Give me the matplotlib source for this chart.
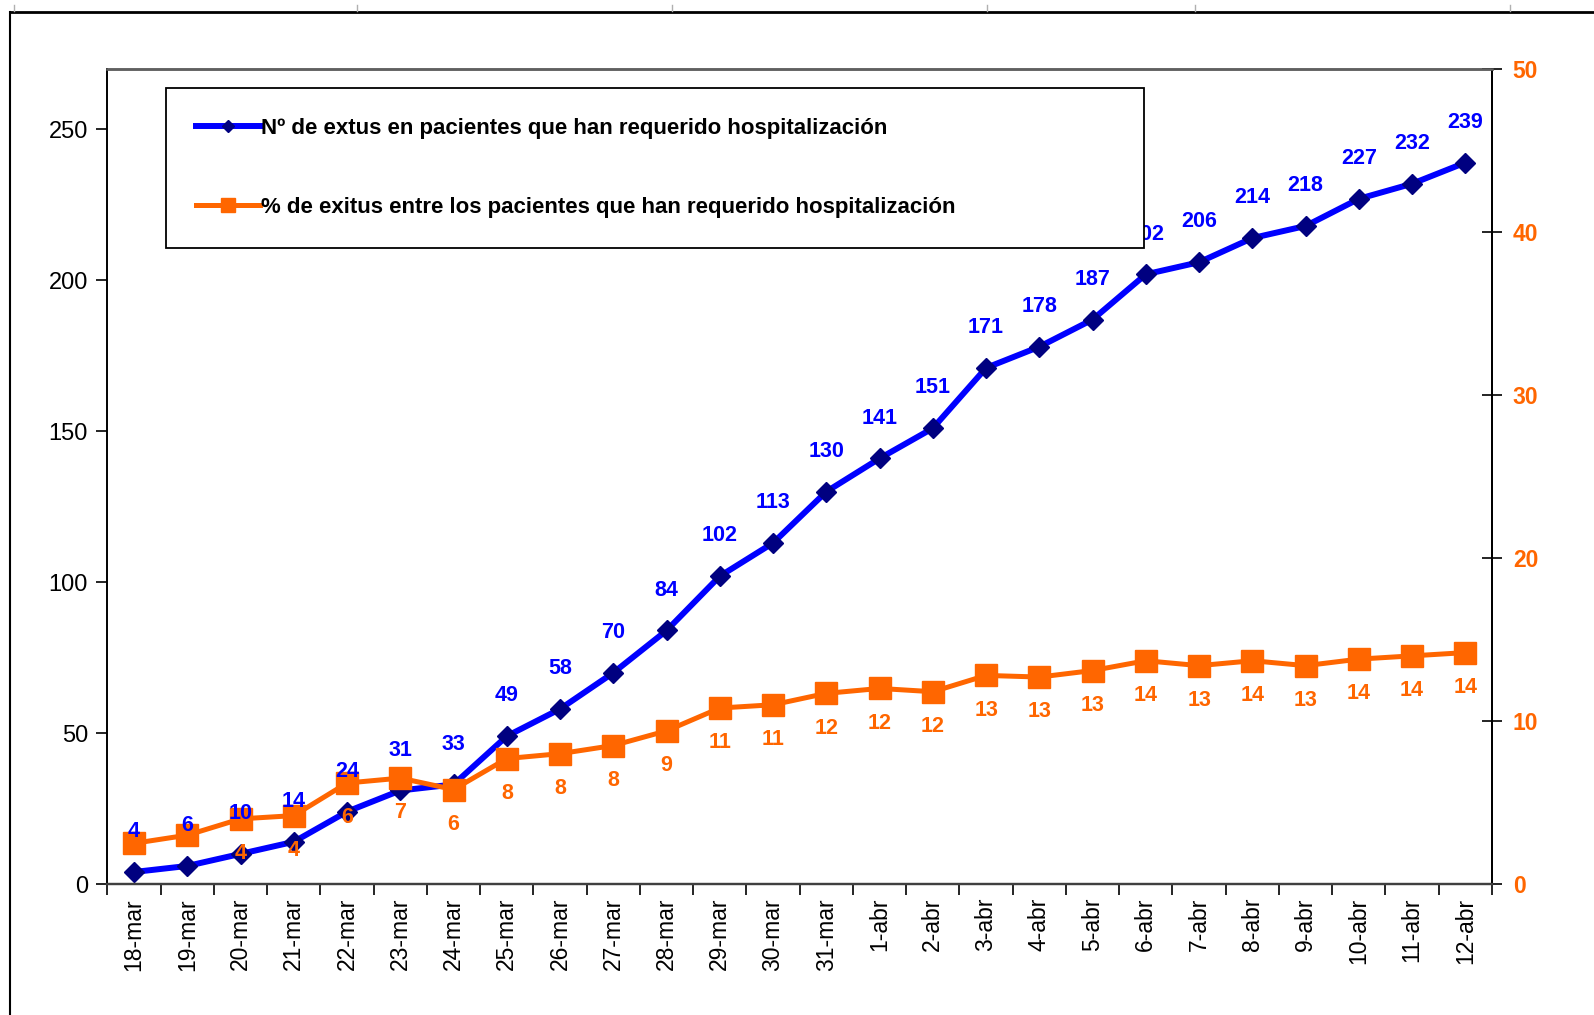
import matplotlib
matplotlib.use('Agg')
import matplotlib.pyplot as plt
from matplotlib.lines import Line2D

plt.rcParams['font.family'] = ['Liberation Sans', 'DejaVu Sans']

fechas = ['18-mar', '19-mar', '20-mar', '21-mar', '22-mar', '23-mar', '24-mar', '25-mar',
          '26-mar', '27-mar', '28-mar', '29-mar', '30-mar', '31-mar', '1-abr', '2-abr',
          '3-abr', '4-abr', '5-abr', '6-abr', '7-abr', '8-abr', '9-abr', '10-abr',
          '11-abr', '12-abr']
exitus = [4, 6, 10, 14, 24, 31, 33, 49, 58, 70, 84, 102, 113, 130, 141, 151,
          171, 178, 187, 202, 206, 214, 218, 227, 232, 239]
pct_exitus = [2.5, 3.0, 4.0, 4.2, 6.2, 6.5, 5.8, 7.7, 8.0, 8.5, 9.4, 10.8, 11.0,
              11.7, 12.0, 11.8, 12.8, 12.7, 13.1, 13.7, 13.4, 13.7, 13.4, 13.8, 14.0, 14.2]
pct_etiquetas = ['', '', '4', '4', '6', '7', '6', '8', '8', '8', '9', '11', '11',
                 '12', '12', '12', '13', '13', '13', '14', '13', '14', '13', '14', '14', '14']

azul = '#0000FF'
azul_osc = '#000080'
naranja = '#FF6600'

fig = plt.figure(figsize=(15.94, 10.15), dpi=100)
ax = fig.add_axes([0.0674, 0.129, 0.8686, 0.803])
ax2 = ax.twinx()

x = list(range(len(fechas)))

l1, = ax.plot(x, exitus, color=azul, lw=4.3, marker='D', ms=10.5,
              mfc=azul_osc, mec=azul_osc,
              label='Nº de extus en pacientes que han requerido hospitalización')
l2, = ax2.plot(x, pct_exitus, color=naranja, lw=3.6, marker='s', ms=16,
               mfc=naranja, mec=naranja,
               label='% de exitus entre los pacientes que han requerido hospitalización')

# etiquetas de datos (encima de todo)
for xi, v in zip(x, exitus):
    ax2.annotate(str(v), (xi, v), xycoords=ax.transData, xytext=(0, 29),
                 textcoords='offset points', ha='center', va='center',
                 color=azul, fontsize=15.5, fontweight='bold', zorder=4)
for xi, v, t in zip(x, pct_exitus, pct_etiquetas):
    ax2.annotate(t, (xi, v), xytext=(0, -25), textcoords='offset points',
                 ha='center', va='center', color=naranja, fontsize=15.5,
                 fontweight='bold', zorder=4)

ax.set_xlim(-0.5, len(fechas) - 0.5)
ax.set_ylim(0, 270)
ax2.set_ylim(0, 50)
ax.set_yticks([0, 50, 100, 150, 200, 250])
ax2.set_yticks([0, 10, 20, 30, 40, 50])

ax.set_xticks([i - 0.5 for i in range(len(fechas) + 1)])
ax.set_xticklabels([])
ax.set_xticks(x, minor=True)
ax.set_xticklabels(fechas, minor=True, rotation=90, fontsize=16.5)
ax.tick_params(axis='x', which='major', direction='out', length=8, width=1.2)
ax.tick_params(axis='x', which='minor', length=0, pad=10)
ax.tick_params(axis='y', direction='out', length=8, width=1.2, labelsize=17, pad=6)
ax2.tick_params(axis='y', direction='inout', length=14, width=1.2, labelsize=16.5,
                labelcolor=naranja, pad=8)
for lab in ax2.get_yticklabels():
    lab.set_fontweight('bold')

for a in (ax, ax2):
    a.spines['top'].set_color('#606060')
    a.spines['top'].set_linewidth(1.8)
    a.spines['left'].set_linewidth(1.2)
    a.spines['right'].set_linewidth(1.4)
    a.spines['bottom'].set_linewidth(1.6)
    a.spines['bottom'].set_color('#404040')

leg = ax2.legend(handles=[l1, l2], loc='upper left',
                 bbox_to_anchor=(0.042, 0.784, 0.707, 0.193), mode='expand',
                 prop={'weight': 'bold', 'size': 16},
                 frameon=True, fancybox=False, framealpha=1, edgecolor='black',
                 borderpad=1.35, labelspacing=2.6, handlelength=2.9,
                 handletextpad=0.05, markerscale=0.6, borderaxespad=0)
leg.get_frame().set_linewidth(1.3)
leg.set_zorder(10)

# marco exterior del gráfico
fig.add_artist(Line2D([10 / 1594, 10 / 1594], [0, 1 - 12 / 1015],
                      transform=fig.transFigure, color='black', lw=1.5))
fig.add_artist(Line2D([10 / 1594, 1], [1 - 12 / 1015, 1 - 12 / 1015],
                      transform=fig.transFigure, color='black', lw=2))
for xp in [14, 357, 672, 987, 1195, 1510]:
    fig.add_artist(Line2D([xp / 1594, xp / 1594], [1 - 5 / 1015, 1 - 11 / 1015],
                          transform=fig.transFigure, color='#b0b0b0', lw=1))

fig.savefig('out.png', dpi=100)
